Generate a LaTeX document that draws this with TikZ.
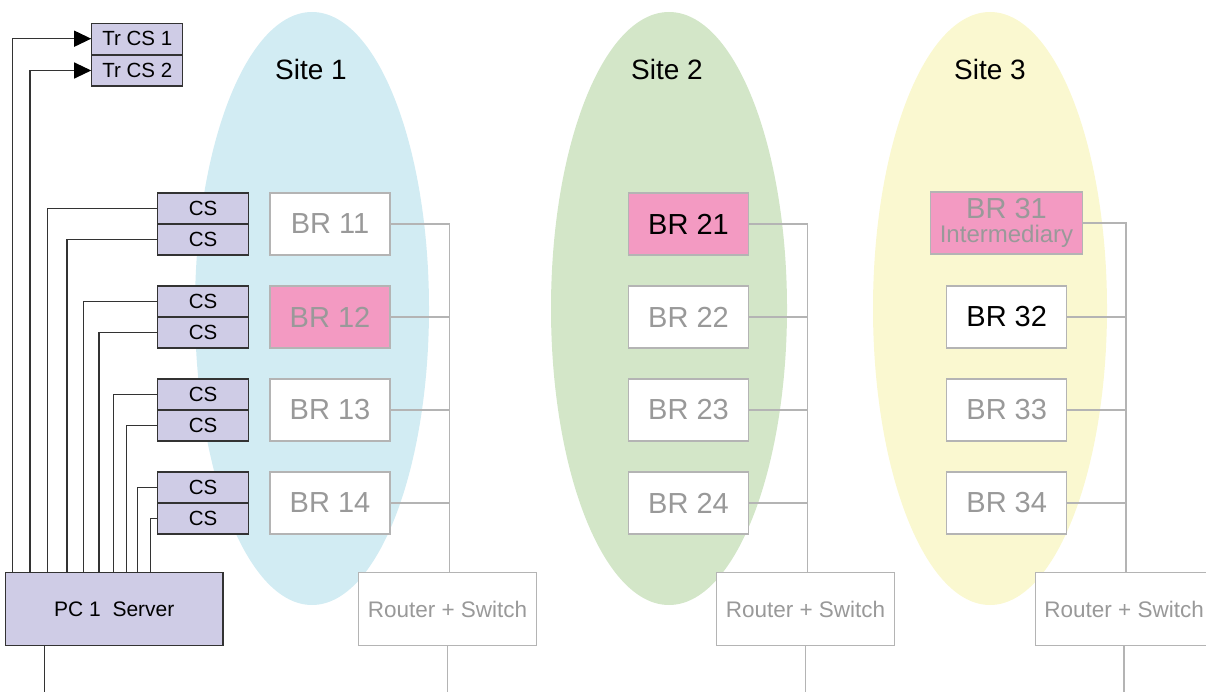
\documentclass[tikz,border=0pt]{standalone}
\usepackage{fontspec}
\setmainfont{Liberation Sans}
\usetikzlibrary{arrows.meta}
\definecolor{siteA}{RGB}{210,236,243}
\definecolor{siteB}{RGB}{211,230,200}
\definecolor{siteC}{RGB}{250,248,208}
\definecolor{pinkfill}{RGB}{243,154,194}
\definecolor{purplefill}{RGB}{207,204,230}
\definecolor{darkline}{RGB}{51,51,51}
\definecolor{greyline}{RGB}{180,180,180}
\definecolor{greytext}{RGB}{153,153,153}
\tikzset{
  brbox/.style={draw=greyline, line width=1.3pt, fill=white, minimum width=120pt, minimum height=62pt, inner sep=0pt, text=greytext, font=\fontsize{29}{30}\selectfont},
  brpink/.style={brbox, fill=pinkfill},
  rsbox/.style={draw=greyline, line width=1.3pt, fill=white, minimum width=177.6pt, minimum height=73pt, inner sep=0pt, text=greytext, font=\fontsize{22.5}{24}\selectfont},
  csbox/.style={draw=darkline, line width=1.2pt, fill=purplefill, minimum width=91pt, minimum height=31pt, inner sep=0pt, font=\fontsize{20.5}{22}\selectfont},
  pcbox/.style={draw=darkline, line width=1.2pt, fill=purplefill, minimum width=217.3pt, minimum height=72.6pt, inner sep=0pt, font=\fontsize{21}{22}\selectfont},
  darkwire/.style={draw=darkline, line width=1.2pt},
  greywire/.style={draw=greyline, line width=1.3pt},
  sitelabel/.style={anchor=base, font=\fontsize{28}{30}\selectfont},
  arrowwire/.style={darkwire, -{Triangle[length=17pt,width=16pt,fill=black,color=black]}},
}
\begin{document}
\begin{tikzpicture}[x=1pt,y=-1pt]
\useasboundingbox (0,0) rectangle (1206,692);
% site ellipses
\fill[siteA] (312,308.5) ellipse [x radius=117, y radius=296.5];
\fill[siteB] (669,308.5) ellipse [x radius=118, y radius=296.5];
\fill[siteC] (990,308.5) ellipse [x radius=117, y radius=296.5];
\node[sitelabel] (s1) at (311,79.3) {Site 1};
\node[sitelabel] (s2) at (667,79.3) {Site 2};
\node[sitelabel] (s3) at (990,79.3) {Site 3};
% site 1
\node[brbox]  (b11) at (330,224) {BR 11};
\node[brpink] (b12) at (330,317) {BR 12};
\node[brbox]  (b13) at (330,410) {BR 13};
\node[brbox]  (b14) at (330,503) {BR 14};
\node[rsbox]  (r1) at (447.5,609.3) {Router + Switch};
% site 2
\node[brpink, text=black] (b21) at (688.5,224) {BR 21};
\node[brbox]  (b22) at (688.5,317) {BR 22};
\node[brbox]  (b23) at (688.5,410) {BR 23};
\node[brbox]  (b24) at (688.5,503) {BR 24};
\node[rsbox]  (r2) at (805.5,609.3) {Router + Switch};
% site 3
\node[brpink, minimum width=152pt, align=center, font=\fontsize{24}{24}\selectfont] (b31) at (1006.5,223) {{\fontsize{29}{24}\selectfont BR 31}\\Intermediary};
\node[brbox, text=black] (b32) at (1006.7,317) {BR 32};
\node[brbox]  (b33) at (1006.7,410) {BR 33};
\node[brbox]  (b34) at (1006.7,503) {BR 34};
\node[rsbox]  (r3) at (1124.1,609.3) {Router + Switch};
% grey buses
\foreach \s/\r in {b11/r1,b12/r1,b13/r1,b14/r1,b21/r2,b22/r2,b23/r2,b24/r2,b31/r3,b32/r3,b33/r3,b34/r3}{
  \draw[greywire] (\s.east) -| ([xshift=2pt]\r.north);
}
\coordinate (e1) at (447.5,692);
\coordinate (e2) at (805.5,692);
\coordinate (e3) at (1124.1,692);
\draw[greywire] (r1.south) -- (e1);
\draw[greywire] (r2.south) -- (e2);
\draw[greywire] (r3.south) -- (e3);
% left side
\node[csbox] (t1) at (137.3,38.7) {Tr CS 1};
\node[csbox] (t2) at (137.3,70.5) {Tr CS 2};
\node[csbox] (c1a) at (203,208.5) {CS};
\node[csbox] (c1b) at (203,239.5) {CS};
\node[csbox] (c2a) at (203,301.5) {CS};
\node[csbox] (c2b) at (203,332.5) {CS};
\node[csbox] (c3a) at (203,394.5) {CS};
\node[csbox] (c3b) at (203,425.5) {CS};
\node[csbox] (c4a) at (203,487.5) {CS};
\node[csbox] (c4b) at (203,518.5) {CS};
\node[pcbox] (pc) at (114.3,609) {PC 1\ \ Server};
\draw[arrowwire] ([xshift=7.6pt]pc.north west) |- (t1.west);
\draw[arrowwire] ([xshift=25pt]pc.north west) |- (t2.west);
\draw[darkwire] ([xshift=42.6pt]pc.north west) |- (c1a.west);
\draw[darkwire] ([xshift=62pt]pc.north west) |- (c1b.west);
\draw[darkwire] ([xshift=78.6pt]pc.north west) |- (c2a.west);
\draw[darkwire] ([xshift=94pt]pc.north west) |- (c2b.west);
\draw[darkwire] ([xshift=108.6pt]pc.north west) |- (c3a.west);
\draw[darkwire] ([xshift=121.3pt]pc.north west) |- (c3b.west);
\draw[darkwire] ([xshift=132.6pt]pc.north west) |- (c4a.west);
\draw[darkwire] ([xshift=145.3pt]pc.north west) |- (c4b.west);
\coordinate (pcend) at (44.3,692);
\draw[darkwire] (pc.south -| pcend) -- (pcend);
\end{tikzpicture}
\end{document}
